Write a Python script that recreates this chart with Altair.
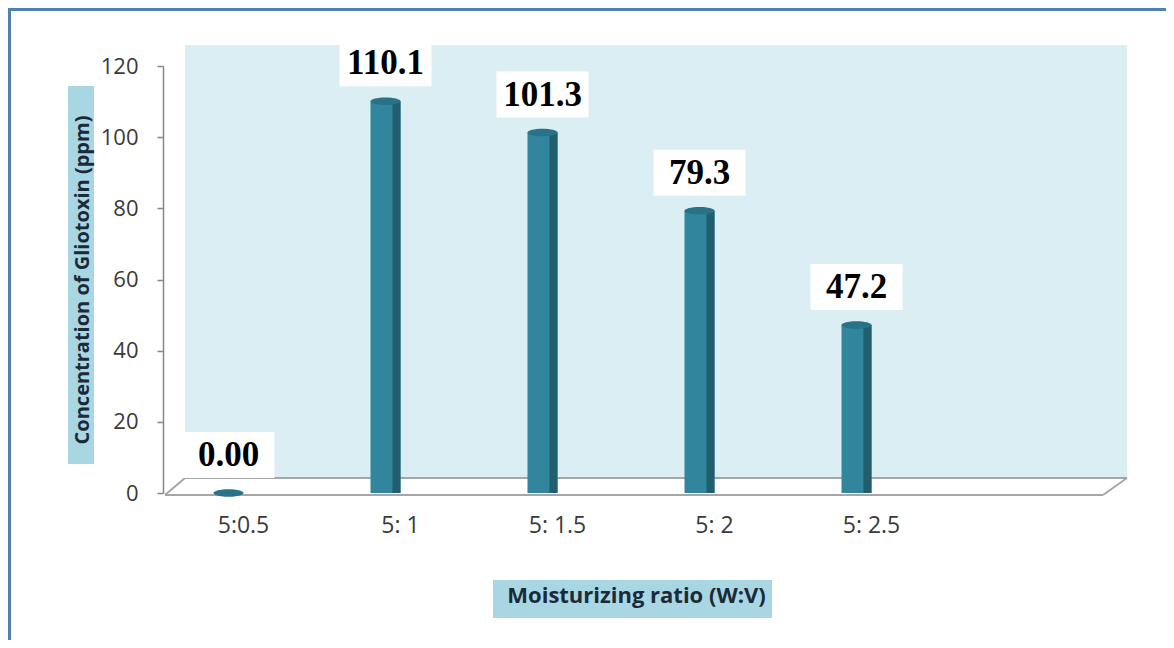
import altair as alt
import pandas as pd

# ---- data ----
categories = ["5:0.5", "5: 1", "5: 1.5", "5: 2", "5: 2.5"]
values = [0.0, 110.1, 101.3, 79.3, 47.2]
value_labels = ["0.00", "110.1", "101.3", "79.3", "47.2"]
x_slots = categories + [""]          # the category axis has one empty slot at the end
y_ticks = [0, 20, 40, 60, 80, 100, 120]

df = pd.DataFrame({"ratio": categories, "conc": values, "label": value_labels})
one = pd.DataFrame({"k": [0]})

W, H = 942, 427
FONT = "Open Sans"

xs = alt.Scale(domain=x_slots, paddingInner=0, paddingOuter=0)
ys = alt.Scale(domain=[0, 120], nice=False, zero=True)

x_enc = alt.X(
    "ratio:N", scale=xs, sort=x_slots,
    axis=alt.Axis(
        title="Moisturizing ratio (W:V)", labelAngle=0, domain=False, ticks=False, zindex=1,
        labelPadding=21, labelFont=FONT, labelFontSize=23, labelColor="#3a3a3a",
        titleFont=FONT, titleFontSize=22, titleFontWeight="bold", titleColor="#1b2a38",
        titlePadding=48,
    ),
)
y_enc = alt.Y(
    "conc:Q", scale=ys,
    axis=alt.Axis(
        title="Concentration of Gliotoxin  (ppm)", values=y_ticks, grid=False, offset=2, zindex=1,
        domainColor="#868686", domainWidth=1.5, tickColor="#868686", tickWidth=1.5, tickSize=6,
        labelPadding=19, labelFont=FONT, labelFontSize=22, labelColor="#3a3a3a",
        titleFont=FONT, titleFontSize=20, titleFontWeight="bold", titleColor="#1b2a38",
        titlePadding=8,
    ),
)

deco = alt.Chart(one)

# outer frame
frame_left = deco.mark_rule(color="#4E7FB5", strokeWidth=4).encode(
    x=alt.value(-156), y=alt.value(-57), y2=alt.value(600))
frame_top = deco.mark_rule(color="#4E7FB5", strokeWidth=4).encode(
    x=alt.value(-158), x2=alt.value(1005), y=alt.value(-57))
frame_right = deco.mark_rule(color="#D3E8F1", strokeWidth=5).encode(
    x=alt.value(1005), y=alt.value(-57), y2=alt.value(600))

# title highlight boxes
ytitle_box = deco.mark_rect(color="#A9D6E3").encode(
    x=alt.value(-97), x2=alt.value(-71), y=alt.value(20), y2=alt.value(398))
xtitle_box = deco.mark_rect(color="#A9D6E3").encode(
    x=alt.value(328), x2=alt.value(607), y=alt.value(514), y2=alt.value(552))

# back wall and floor
wall = deco.mark_rect(color="#DAEEF3").encode(
    x=alt.value(20), x2=alt.value(962), y=alt.value(-21), y2=alt.value(412))
floor_col = "#A6A6A6"
floor_back = deco.mark_rule(color=floor_col, strokeWidth=2).encode(
    x=alt.value(20), x2=alt.value(962), y=alt.value(412))
floor_front = deco.mark_rule(color=floor_col, strokeWidth=2).encode(
    x=alt.value(0), x2=alt.value(938), y=alt.value(429))
floor_l = deco.mark_rule(color=floor_col, strokeWidth=2).encode(
    x=alt.value(0), x2=alt.value(20), y=alt.value(429), y2=alt.value(412))
floor_r = deco.mark_rule(color=floor_col, strokeWidth=2).encode(
    x=alt.value(938), x2=alt.value(962), y=alt.value(429), y2=alt.value(412))

base = alt.Chart(df)
front = base.mark_bar(width=30, xOffset=-15, color="#31859C").encode(x=x_enc, y=y_enc)
side = base.mark_bar(width=8, xOffset=-4, color="#215E6E").encode(x=x_enc, y=y_enc)
ellipse = "M-1,0A1,0.25 0 1,0 1,0A1,0.25 0 1,0 -1,0Z"
cap = base.mark_point(shape=ellipse, size=900, filled=True, opacity=1, color="#2A7287",
                      xOffset=-15, strokeWidth=0).encode(x=x_enc, y=y_enc)
rectpath = "M-0.92,-0.46L0.92,-0.46L0.92,0.46L-0.92,0.46Z"
box = base.mark_point(shape=rectpath, size=10000, filled=True, opacity=1, color="white",
                      strokeWidth=0, xOffset=-15, yOffset=-38).encode(x=x_enc, y=y_enc)
text = base.mark_text(font="Liberation Serif", fontWeight="bold", fontSize=35, color="black",
                      dx=-15, dy=-27, baseline="alphabetic", align="center").encode(
    x=x_enc, y=y_enc, text="label:N")

chart = alt.layer(
    frame_left, frame_top, frame_right, ytitle_box, xtitle_box, wall,
    floor_back, floor_front, floor_l, floor_r,
    front, side, cap, box, text,
).properties(
    width=W, height=H, autosize="none",
    padding={"left": 157, "top": 58, "right": 59, "bottom": 147},
    background="white",
).configure_view(stroke=None)

chart.save("out.html", embed_options={"renderer": "svg", "actions": False})
